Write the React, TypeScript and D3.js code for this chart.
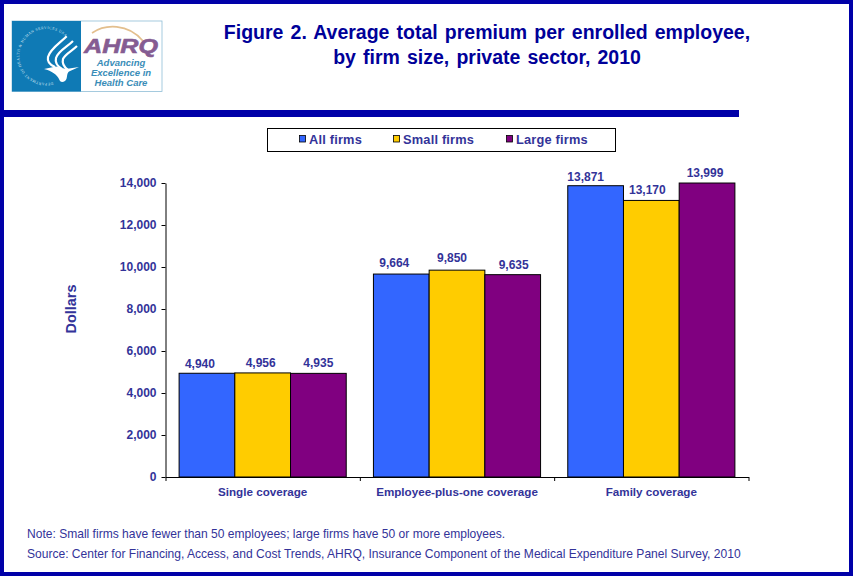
import { useEffect, useRef } from "react";
import * as d3 from "d3";

const COVERAGE = ["Single coverage", "Employee-plus-one coverage", "Family coverage"];
const FIRM_TYPES = ["All firms", "Small firms", "Large firms"];
const ALL_FIRMS = [4940, 9664, 13871];
const SMALL_FIRMS = [4956, 9850, 13170];
const LARGE_FIRMS = [4935, 9635, 13999];
const Y_TICKS = [0, 2000, 4000, 6000, 8000, 10000, 12000, 14000];
const COLORS = ["#3366FF", "#FFCC00", "#800080"];
const TITLE = ["Figure 2. Average total premium per enrolled employee,", "by firm size, private sector, 2010"];
const NOTES = [
  "Note: Small firms have fewer than 50 employees; large firms have 50 or more employees.",
  "Source: Center for Financing, Access, and Cost Trends, AHRQ, Insurance Component of the Medical Expenditure Panel Survey, 2010",
];

// value labels were hand-nudged in the original, per firm type then coverage
const LABEL_DX = [[-7, -7, -10], [-2, -5, -4], [0, 1, -2]];
const LABEL_DY = [[-5.5, -7, -4.6], [-6, -8, -6], [-6, -6, -6]];

const WIDTH = 853;
const HEIGHT = 576;
const NAVY = "#0000A8";
const INK = "#333399";
const FONT = "'Liberation Sans', Arial, sans-serif";

export default function App() {
  const svgRef = useRef<SVGSVGElement>(null);

  useEffect(() => {
    if (!svgRef.current) return;
    const svg = d3.select(svgRef.current);
    svg.selectAll("*").remove();
    svg.attr("font-family", FONT);

    const margin = { top: 183, right: 104.5, bottom: 99, left: 165.5 };
    const series = [ALL_FIRMS, SMALL_FIRMS, LARGE_FIRMS];

    // Frame and header rule
    svg.append("rect").attr("width", WIDTH).attr("height", HEIGHT).attr("fill", "#fff");
    svg.append("rect")
      .attr("x", 2).attr("y", 2)
      .attr("width", WIDTH - 4).attr("height", HEIGHT - 4)
      .attr("fill", "none").attr("stroke", NAVY).attr("stroke-width", 4);
    svg.append("rect").attr("x", 4).attr("y", 110).attr("width", 735).attr("height", 7).attr("fill", NAVY);

    // Logo
    const logo = svg.append("g");
    logo.append("rect").attr("x", 12).attr("y", 21).attr("width", 150).attr("height", 70.5)
      .attr("fill", "#fff").attr("stroke", "#8fbdd6").attr("stroke-width", 0.8);
    logo.append("rect").attr("x", 12).attr("y", 21).attr("width", 69).attr("height", 70.5).attr("fill", "#0F7AB5");
    logo.append("path").attr("id", "seal").attr("fill", "none")
      .attr("d", "M 53 82.2 A 27 27 0 1 1 66 37.5");
    logo.append("text").attr("font-size", 3.8).attr("fill", "#cfe4f1").attr("font-family", "'Liberation Serif', serif")
      .append("textPath").attr("href", "#seal").attr("textLength", 112)
      .text("DEPARTMENT OF HEALTH & HUMAN SERVICES USA");
    const stripes = [
      "M 66.7 36.3 C 60 43 50 49 48 57 C 47 62 50 65 55 67",
      "M 73 41 C 67 47 58 51 56 58 C 55 62 57 66 62 69",
      "M 77 46 C 72 51 65 54 63 59 C 62 63 64 67 68 70",
    ];
    logo.selectAll(".stripe").data(stripes).join("path").attr("class", "stripe").attr("d", (d) => d)
      .attr("fill", "none").attr("stroke", "#fff").attr("stroke-width", 2.2);
    logo.append("path").attr("fill", "#fff")
      .attr("d", "M 44 69 L 56 66.5 L 66 69 L 79 67 L 69 71.5 C 66 74 68 79 65 81 C 62 83 60 82 59 79 C 57 75 52 71 44 69 Z");
    logo.append("path").attr("d", "M 92 33 C 105 24 128 23 143 41").attr("fill", "none").attr("stroke", "#e3bf8e").attr("stroke-width", 1.6);
    logo.append("text").attr("x", 84).attr("y", 53).attr("font-size", 20).attr("font-weight", 700)
      .attr("font-style", "italic").attr("fill", "#855C92").attr("stroke", "#855C92").attr("stroke-width", 0.6)
      .attr("textLength", 74).attr("lengthAdjust", "spacingAndGlyphs").text("AHRQ");
    logo.selectAll(".tag").data(["Advancing", "Excellence in", "Health Care"]).join("text").attr("class", "tag")
      .attr("x", 121).attr("y", (_, i) => 66 + i * 10)
      .attr("text-anchor", "middle").attr("font-size", 9.5).attr("font-weight", 700).attr("font-style", "italic")
      .attr("fill", "#3A8DB8").text((d) => d);

    // Title
    svg.selectAll(".title").data(TITLE).join("text").attr("class", "title")
      .attr("x", 487).attr("y", (_, i) => 39 + i * 25)
      .attr("text-anchor", "middle").attr("font-size", 19.5).attr("font-weight", 700).attr("fill", "#000099")
      .attr("word-spacing", 1.7).text((d) => d);

    // Legend
    svg.append("rect").attr("x", 267.5).attr("y", 128.5).attr("width", 348).attr("height", 23)
      .attr("fill", "#fff").attr("stroke", "#000").attr("stroke-width", 1);
    const legendX = [299, 393, 506];
    const legend = svg.selectAll(".legend").data(FIRM_TYPES).join("g").attr("class", "legend")
      .attr("transform", (_, i) => `translate(${legendX[i]},135)`);
    legend.append("rect").attr("x", 0.5).attr("y", 0.5).attr("width", 6).attr("height", 6.5)
      .attr("fill", (_, i) => COLORS[i]).attr("stroke", "#000").attr("stroke-width", 0.8);
    legend.append("text").attr("x", 10).attr("y", 8.5).attr("font-size", 12.8).attr("font-weight", 700)
      .attr("fill", INK).attr("letter-spacing", 0.2).text((d) => d);

    // Scales
    const x0 = d3.scaleBand().domain(COVERAGE).range([margin.left, WIDTH - margin.right]).paddingInner(0.14).paddingOuter(0.07);
    const x1 = d3.scaleBand().domain(FIRM_TYPES).range([0, x0.bandwidth()]);
    const y = d3.scaleLinear().domain([0, 14000]).range([HEIGHT - margin.bottom, margin.top]);

    // Bars and value labels
    const groups = svg.selectAll(".group").data(COVERAGE).join("g").attr("class", "group")
      .attr("transform", (d) => `translate(${x0(d)},0)`);
    FIRM_TYPES.forEach((firm, s) => {
      groups.append("rect")
        .attr("x", x1(firm)!)
        .attr("y", (_, i) => y(series[s][i]))
        .attr("width", x1.bandwidth())
        .attr("height", (_, i) => y(0) - y(series[s][i]))
        .attr("fill", COLORS[s])
        .attr("stroke", "#000")
        .attr("stroke-width", 1);
    });
    FIRM_TYPES.forEach((firm, s) => {
      groups.append("text")
        .attr("x", (_, i) => x1(firm)! + x1.bandwidth() / 2 + LABEL_DX[s][i])
        .attr("y", (_, i) => y(series[s][i]) + LABEL_DY[s][i])
        .attr("text-anchor", "middle")
        .attr("font-size", 12).attr("font-weight", 700).attr("fill", INK)
        .text((_, i) => d3.format(",")(series[s][i]));
    });

    // X axis
    svg.append("g")
      .attr("transform", `translate(0,${y(0)})`)
      .call(d3.axisBottom(d3.scaleLinear().domain([0, 3]).range([margin.left, WIDTH - margin.right]))
        .tickValues([0, 1, 2, 3]).tickSize(4).tickSizeOuter(0).tickFormat(() => ""))
      .call((g) => {
        g.select(".domain").attr("stroke", "#000");
        g.selectAll(".tick line").attr("stroke", "#000");
      });
    svg.selectAll(".cat").data(COVERAGE).join("text").attr("class", "cat")
      .attr("x", (d) => x0(d)! + x0.bandwidth() / 2)
      .attr("y", y(0) + 18.5)
      .attr("text-anchor", "middle").attr("font-size", 11.65).attr("font-weight", 700).attr("fill", INK)
      .text((d) => d);

    // Y axis
    svg.append("g")
      .attr("transform", `translate(${margin.left},0)`)
      .call(d3.axisLeft(y).tickValues(Y_TICKS).tickSize(4).tickSizeOuter(0).tickPadding(5).tickFormat((d) => d3.format(",")(d as number)))
      .call((g) => {
        g.select(".domain").attr("stroke", "#000");
        g.selectAll(".tick line").attr("stroke", "#000");
        g.selectAll(".tick text").attr("fill", INK).attr("font-family", FONT).attr("font-size", 12).attr("font-weight", 700);
      });
    svg.append("text")
      .attr("transform", "translate(76,309) rotate(-90)")
      .attr("text-anchor", "middle").attr("font-size", 14.5).attr("font-weight", 700).attr("fill", INK)
      .text("Dollars");

    // Footnotes
    svg.selectAll(".note").data(NOTES).join("text").attr("class", "note")
      .attr("x", 27).attr("y", (_, i) => 538 + i * 20)
      .attr("font-size", 12.05).attr("fill", INK).text((d) => d);
  }, []);

  return <svg ref={svgRef} width={WIDTH} height={HEIGHT} style={{ position: "absolute", left: 0, top: 0 }} />;
}
